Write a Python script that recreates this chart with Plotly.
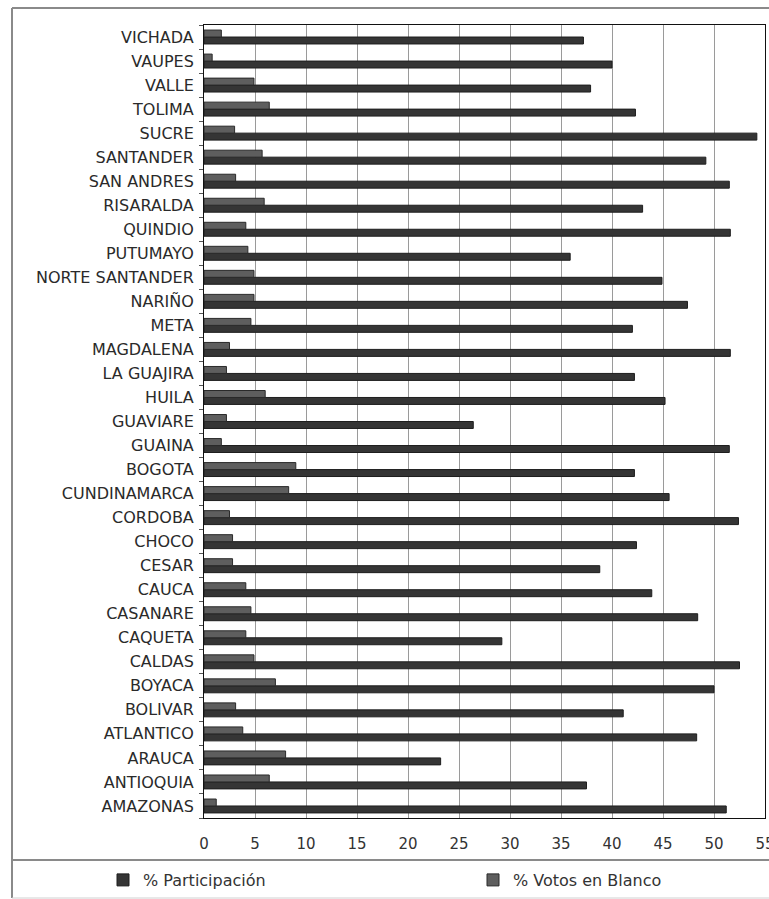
import plotly.graph_objects as go

# departments, bottom to top as drawn
departamentos = [
    "AMAZONAS", "ANTIOQUIA", "ARAUCA", "ATLANTICO", "BOLIVAR", "BOYACA",
    "CALDAS", "CAQUETA", "CASANARE", "CAUCA", "CESAR", "CHOCO", "CORDOBA",
    "CUNDINAMARCA", "BOGOTA", "GUAINA", "GUAVIARE", "HUILA", "LA GUAJIRA",
    "MAGDALENA", "META", "NARIÑO", "NORTE SANTANDER", "PUTUMAYO", "QUINDIO",
    "RISARALDA", "SAN ANDRES", "SANTANDER", "SUCRE", "TOLIMA", "VALLE",
    "VAUPES", "VICHADA",
]

participacion = [
    51.2, 37.5, 23.2, 48.3, 41.1, 50.0,
    52.5, 29.2, 48.4, 43.9, 38.8, 42.4, 52.4,
    45.6, 42.2, 51.5, 26.4, 45.2, 42.2,
    51.6, 42.0, 47.4, 44.9, 35.9, 51.6,
    43.0, 51.5, 49.2, 54.2, 42.3, 37.9,
    40.0, 37.2,
]

votos_blanco = [
    1.2, 6.4, 8.0, 3.8, 3.1, 7.0,
    4.9, 4.1, 4.6, 4.1, 2.8, 2.8, 2.5,
    8.3, 9.0, 1.7, 2.2, 6.0, 2.2,
    2.5, 4.6, 4.9, 4.9, 4.3, 4.1,
    5.9, 3.1, 5.7, 3.0, 6.4, 4.9,
    0.8, 1.7,
]

x_ticks = list(range(0, 60, 5))

W, H = 769, 899
L, R, T, B = 204, 4, 25, 81
pw, ph = W - L - R, H - T - B


def px_x(x):
    return (x - L) / pw


def px_y(y):
    return (H - B - y) / ph


FONT = "DejaVu Sans, Liberation Sans, Arial, sans-serif"

fig = go.Figure()

fig.add_trace(go.Bar(
    y=departamentos, x=participacion, orientation="h",
    name="% Participación", legend="legend",
    marker=dict(color="#353535", line=dict(color="#1e1e1e", width=1)),
))
fig.add_trace(go.Bar(
    y=departamentos, x=votos_blanco, orientation="h",
    name="% Votos en Blanco", legend="legend2",
    marker=dict(color="#5e5e5e", line=dict(color="#2a2a2a", width=1)),
))

leg = dict(
    orientation="h", xref="container", yref="container",
    y=1 - 880 / H, xanchor="left", yanchor="middle",
    bgcolor="rgba(0,0,0,0)", font=dict(family=FONT, size=16, color="#333"),
    itemwidth=30,
)

fig.update_layout(
    width=W, height=H,
    margin=dict(l=L, r=R, t=T, b=B, autoexpand=False),
    paper_bgcolor="white", plot_bgcolor="white",
    font=dict(family=FONT, size=15, color="#2a2a2a"),
    barmode="group", bargap=0.42, bargroupgap=0.0,
    showlegend=True,
    legend=dict(leg, x=103 / W),
    legend2=dict(leg, x=473 / W),
)

fig.update_xaxes(
    range=[0, 55], tickvals=x_ticks, automargin=False,
    showgrid=True, gridcolor="#9a9a9a", gridwidth=1,
    showline=True, linecolor="#111", linewidth=1, mirror=True,
    ticks="", ticklabelstandoff=12, ticklabeloverflow="allow",
    tickfont=dict(family=FONT, size=15, color="#333"),
    zeroline=False, fixedrange=True,
)
fig.update_yaxes(
    type="category", categoryorder="array", categoryarray=departamentos,
    automargin=False,
    showline=True, linecolor="#111", linewidth=1, mirror=True,
    ticks="outside", ticklen=4, tickcolor="#555", tickson="boundaries",
    ticklabelstandoff=6,
    tickfont=dict(family=FONT, size=16, color="#2a2a2a"),
    showgrid=False, fixedrange=True,
)

# outer chart frame and legend separator
frame = dict(color="#8a8a8a", width=2)
fig.add_shape(type="line", xref="paper", yref="paper",
              x0=px_x(12), x1=px_x(775), y0=px_y(8), y1=px_y(8), line=frame)
fig.add_shape(type="line", xref="paper", yref="paper",
              x0=px_x(12), x1=px_x(12), y0=px_y(8), y1=px_y(898), line=frame)
fig.add_shape(type="line", xref="paper", yref="paper",
              x0=px_x(12), x1=px_x(775), y0=px_y(860), y1=px_y(860), line=frame)
fig.add_shape(type="line", xref="paper", yref="paper",
              x0=px_x(12), x1=px_x(775), y0=px_y(898), y1=px_y(898),
              line=dict(color="#d0d0d0", width=1))

# the page body has a default 8px margin; drop it so the figure fills the window
fig.write_html(
    "out.html",
    config={"displayModeBar": False},
    post_script="document.body.style.margin='0';document.body.style.overflow='hidden';",
)
